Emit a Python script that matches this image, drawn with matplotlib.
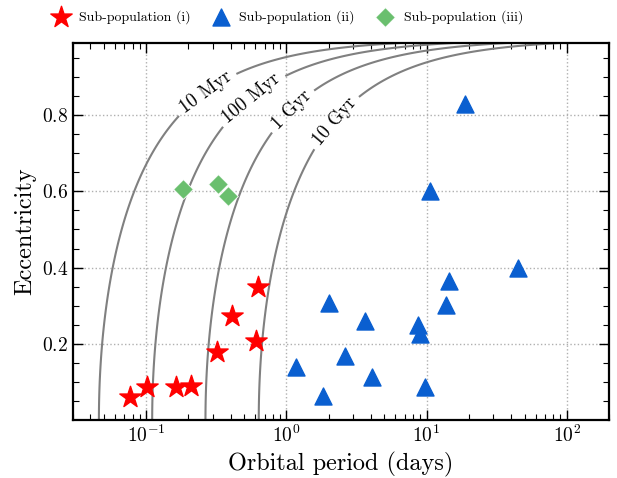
import numpy as np
import matplotlib.pyplot as plt

plt.rcParams.update({
    'font.family': 'serif',
    'font.serif': ['cmr10'],
    'mathtext.fontset': 'cm',
    'axes.formatter.use_mathtext': True,
    'axes.unicode_minus': False,
})

# sub-population (i): short period, low eccentricity
p_i = [0.0765, 0.101, 0.164, 0.209, 0.318, 0.413, 0.61, 0.631]
e_i = [0.060, 0.088, 0.086, 0.090, 0.180, 0.273, 0.208, 0.349]

# sub-population (ii)
p_ii = [1.17, 1.82, 2.03, 2.61, 3.66, 4.06, 8.63, 8.96, 9.68, 10.6, 13.7, 14.4, 18.9, 45.2]
e_ii = [0.139, 0.064, 0.307, 0.169, 0.260, 0.113, 0.249, 0.226, 0.088, 0.600, 0.303, 0.366, 0.829, 0.398]

# sub-population (iii)
p_iii = [0.182, 0.323, 0.381]
e_iii = [0.605, 0.618, 0.588]

# circularisation isochrones (log10 age in yr)
ages = [7, 8, 9, 10]
age_names = {7: '10 Myr', 8: '100 Myr', 9: '1 Gyr', 10: '10 Gyr'}
label_pos = [(0.268, 0.858), (0.58, 0.839), (1.09, 0.813), (2.2, 0.784)]


def log_tcirc(P, e):
    # t_circ ~ P^(1/0.38) (1-e^2)^(1.3/0.38), normalised to 1 Gyr at P = 0.265 d
    return 9 + (np.log10(P) - np.log10(0.265)) / 0.38 + (1.3 / 0.38) * np.log10(1 - e**2)


fig = plt.figure(figsize=(6.17, 4.78), dpi=100)
ax = fig.add_axes([0.118, 0.121, 0.869, 0.790])

# set scale/limits first so the inline labels get the right angle
ax.set_xscale('log')
ax.set_xlim(0.03, 200)
ax.set_ylim(0, 0.99)

PP, EE = np.meshgrid(np.logspace(np.log10(0.03), np.log10(200), 800),
                     np.linspace(0, 0.995, 800))
cs = ax.contour(PP, EE, log_tcirc(PP, EE), levels=ages, colors='gray', linewidths=1.5)
ax.clabel(cs, fmt=age_names, manual=label_pos, inline=True, fontsize=13.5,
          inline_spacing=6, colors='k')

ax.scatter(p_i, e_i, marker='*', s=260, color='red', zorder=3, label='Sub-population (i)')
ax.scatter(p_ii, e_ii, marker='^', s=150, color='#0a5fd0', zorder=3, label='Sub-population (ii)')
ax.scatter(p_iii, e_iii, marker='D', s=100, color='#6abf6e', edgecolor='white', linewidth=0.6,
           zorder=3, label='Sub-population (iii)')

ax.set_xlim(0.03, 200)
ax.set_ylim(0, 0.99)
ax.set_yticks([0.2, 0.4, 0.6, 0.8])
ax.set_yticks(np.arange(0.05, 0.99, 0.05), minor=True)
ax.grid(True, which='major', linestyle=':', color='#b0b0b0', linewidth=1)
ax.set_axisbelow(True)

ax.tick_params(which='both', direction='in', top=True, right=True, labelsize=14)
ax.tick_params(which='major', length=7, width=1)
ax.tick_params(which='minor', length=4, width=0.8)
for sp in ax.spines.values():
    sp.set_linewidth(1.6)

ax.set_xlabel('Orbital period (days)', fontsize=17.5)
ax.set_ylabel('Eccentricity', fontsize=17.5)

fig.legend(loc='upper center', bbox_to_anchor=(0.462, 1.005), ncol=3, frameon=False,
           fontsize=10, handletextpad=0.3, columnspacing=1.2, scatterpoints=1)

fig.savefig('out.png', dpi=100)
